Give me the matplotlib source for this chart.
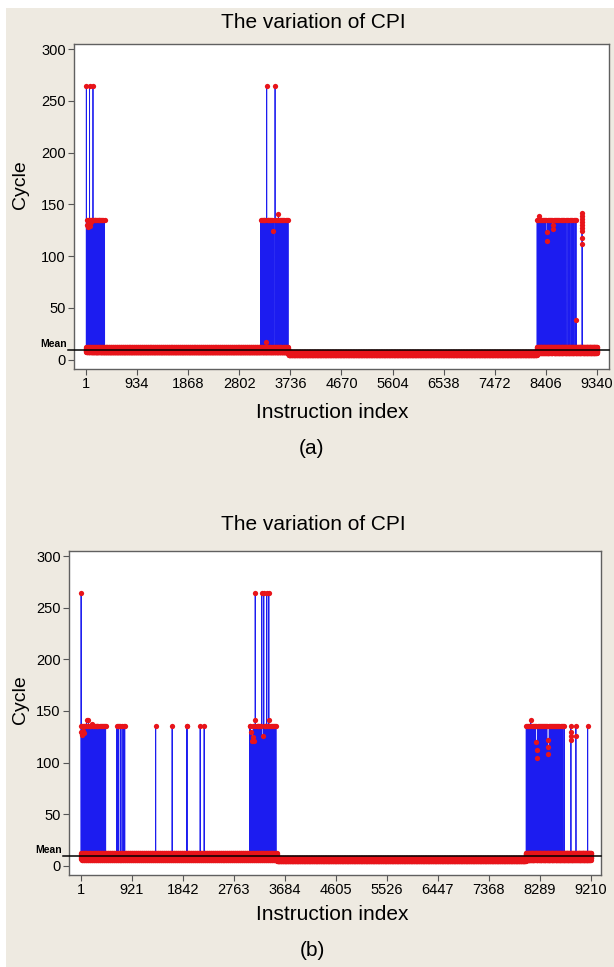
import numpy as np
import matplotlib
matplotlib.use("Agg")
import matplotlib.pyplot as plt
from matplotlib import transforms
from matplotlib.patches import Rectangle

plt.rcParams['font.family'] = ['Liberation Sans', 'DejaVu Sans']

# ---- data ----
n_a = 9340
n_b = 9210
xticks_a = [1, 934, 1868, 2802, 3736, 4670, 5604, 6538, 7472, 8406, 9340]
xticks_b = [1, 921, 1842, 2763, 3684, 4605, 5526, 6447, 7368, 8289, 9210]
yticks = [0, 50, 100, 150, 200, 250, 300]
mean_a = 9.5
mean_b = 9.0

# cycle values of the low band (repeating readings inside each stretch)
band_busy = [8.5, 10.5, 7.5, 9.5, 11, 8, 7, 10, 9, 12.5, 7.5, 9]
band_quiet = [5.5, 6.5, 5, 7, 6, 5.5, 6.8]
band_tail = [7, 10, 8, 12, 6, 9, 11, 7.5]
band_wavy = [7, 10, 8.5, 12, 6.5, 9, 11, 8, 7.5, 10.5, 9.5, 6]

# (first index, last index, band)
segments_a = [(0, 3180, band_busy), (3180, 3700, band_busy),
              (3700, 8240, band_quiet), (8240, 9340, band_tail)]
segments_b = [(0, 3540, band_wavy), (3540, 8030, band_quiet),
              (8030, 9210, band_tail)]

# high-cycle instructions: index and cycle count
spikes_a_idx = [6, 14, 22, 30, 38, 46, 55, 66, 74, 82, 90, 99, 108, 118, 128,
                136, 146, 157, 170, 183, 197, 212, 230, 246, 262, 280, 296,
                318, 340,
                3190, 3210, 3228, 3245, 3262, 3280, 3296, 3303, 3318, 3335,
                3352, 3370, 3388, 3405, 3419, 3430, 3455, 3470, 3488, 3505,
                3516, 3530, 3548, 3566, 3585, 3605, 3625, 3648, 3672, 3692,
                8245, 8262, 8280, 8298, 8316, 8334, 8352, 8370, 8388, 8405,
                8418, 8426, 8440, 8458, 8476, 8494, 8512, 8532, 8540, 8552,
                8570, 8590, 8610, 8630, 8650, 8672, 8695, 8718, 8740, 8765,
                8790, 8815, 8840, 8865, 8890, 8915, 8940, 8955, 8962,
                9062, 9063, 9064, 9065, 9066, 9067, 9068, 9069, 9070]
spikes_a_val = [264, 130, 135, 128, 135, 131, 135, 264, 135, 129, 135, 133,
                135, 135, 264, 135, 135, 135, 135, 135, 135, 135, 135, 135,
                135, 135, 135, 135, 135,
                135, 135, 135, 135, 135, 135, 17, 264, 135, 135,
                135, 135, 135, 135, 124, 135, 264, 135, 135, 135,
                141, 135, 135, 135, 135, 135, 135, 135, 135, 135,
                135, 135, 139, 135, 135, 135, 135, 135, 135, 135,
                123, 115, 135, 135, 135, 135, 135, 130, 126, 135,
                135, 135, 135, 135, 135, 135, 135, 135, 135, 135,
                135, 135, 135, 135, 135, 135, 135, 135, 38,
                142, 139, 136, 133, 130, 127, 124, 118, 112]

spikes_b_idx = [1, 2, 8, 16, 24, 32, 40, 48, 58, 68, 78, 90, 102, 112, 124,
                135, 146, 158, 170, 182, 195, 208, 222, 236, 250, 265, 280,
                295, 310, 340, 355, 372, 390, 408, 428, 445,
                645, 663, 681, 711, 741, 771, 790,
                1349, 1645, 1905, 1915, 2151, 2223,
                3045, 3060, 3075, 3088, 3098, 3110, 3122, 3135, 3145, 3146,
                3175, 3190, 3205, 3220, 3235, 3250, 3265, 3283, 3301, 3315,
                3330, 3343, 3355, 3370, 3392, 3393, 3410, 3428, 3445, 3462,
                3480, 3500, 3520,
                8040, 8058, 8076, 8094, 8112, 8123, 8140, 8158, 8176, 8194,
                8210, 8220, 8228, 8236, 8250, 8268, 8286, 8304, 8322, 8340,
                8358, 8376, 8394, 8412, 8424, 8432, 8440, 8455, 8472, 8490,
                8508, 8526, 8544, 8562, 8580, 8600, 8620, 8640, 8660, 8680,
                8700, 8725,
                8846, 8847, 8848, 8849, 8937, 8938, 9150]
spikes_b_val = [264, 135, 130, 135, 127, 135, 131, 135, 129, 135, 135, 135,
                141, 135, 135, 141, 135, 135, 135, 135, 137, 135, 135, 135,
                135, 135, 135, 135, 135, 135, 135, 135, 135, 135, 135, 135,
                135, 135, 135, 135, 135, 135, 135,
                135, 135, 135, 135, 135, 135,
                135, 135, 130, 121, 125, 135, 121, 135, 264, 141,
                135, 135, 135, 135, 135, 135, 264, 126, 264, 135,
                135, 135, 264, 135, 264, 141, 135, 135, 135, 135,
                135, 135, 135,
                135, 135, 135, 135, 135, 141, 135, 135, 135, 135,
                135, 120, 112, 104, 135, 135, 135, 135, 135, 135,
                135, 135, 135, 135, 122, 115, 108, 135, 135, 135,
                135, 135, 135, 135, 135, 135, 135, 135, 135, 135,
                135, 135,
                135, 130, 126, 122, 135, 126, 135]


def build_series(n, segments, idx, val):
    y = np.zeros(n)
    for start, end, band in segments:
        y[start:end] = np.resize(band, end - start)
    y[idx] = val
    return y


W, H = 614, 967
fig = plt.figure(figsize=(W / 100, H / 100), dpi=100)
fig.patch.set_facecolor('white')
fig.add_artist(Rectangle((6 / W, 0), 1 - 6 / W, 1 - 8 / H,
                         transform=fig.transFigure, facecolor='#eeeae1',
                         edgecolor='none', zorder=-10))


def panel(box, n, segments, idx, val, ticks, xlim, mean):
    l, t, r, b = box
    ax = fig.add_axes([l / W, 1 - b / H, (r - l) / W, (b - t) / H])
    x = np.arange(1, n + 1)
    y = build_series(n, segments, idx, val)
    ax.plot(x, y, '-o', color='#1c1cf0', lw=0.6, ms=3.8,
            mfc='#e8141a', mec='#e8141a', mew=0)
    ax.set_xlim(*xlim)
    ax.set_ylim(-9, 305)
    ax.set_xticks(ticks)
    ax.set_yticks(yticks)
    ax.tick_params(direction='out', length=4, width=0.8, color='#555555',
                   labelsize=10.5, pad=2)
    for s in ax.spines.values():
        s.set_color('#606060')
        s.set_linewidth(1.0)
    tr = transforms.blended_transform_factory(ax.transAxes, ax.transData)
    ax.plot([-0.012, 1], [mean, mean], transform=tr, color='black', lw=1.1,
            clip_on=False, zorder=4)
    ax.text(-0.013, mean + 1, 'Mean', transform=tr, ha='right', va='bottom',
            fontsize=7.5, fontweight='bold')
    return ax


panel((74, 44, 609, 369), n_a, segments_a, spikes_a_idx, spikes_a_val,
      xticks_a, (-218, 9559), mean_a)
panel((69, 551, 601, 875), n_b, segments_b, spikes_b_idx, spikes_b_val,
      xticks_b, (-216, 9391), mean_b)


def ftext(px, py, s, **kw):
    fig.text(px / W, 1 - py / H, s, ha='center', va='center', **kw)


ftext(313, 22, 'The variation of CPI', fontsize=15)
ftext(313, 524, 'The variation of CPI', fontsize=15)
ftext(20, 185, 'Cycle', fontsize=14, rotation=90)
ftext(20, 700, 'Cycle', fontsize=14, rotation=90)
ftext(332, 412, 'Instruction index', fontsize=15)
ftext(332, 914, 'Instruction index', fontsize=15)
ftext(312, 448, '(a)', fontsize=15)
ftext(312, 951, '(b)', fontsize=15)

fig.savefig('out.png', dpi=100, facecolor=fig.get_facecolor())
